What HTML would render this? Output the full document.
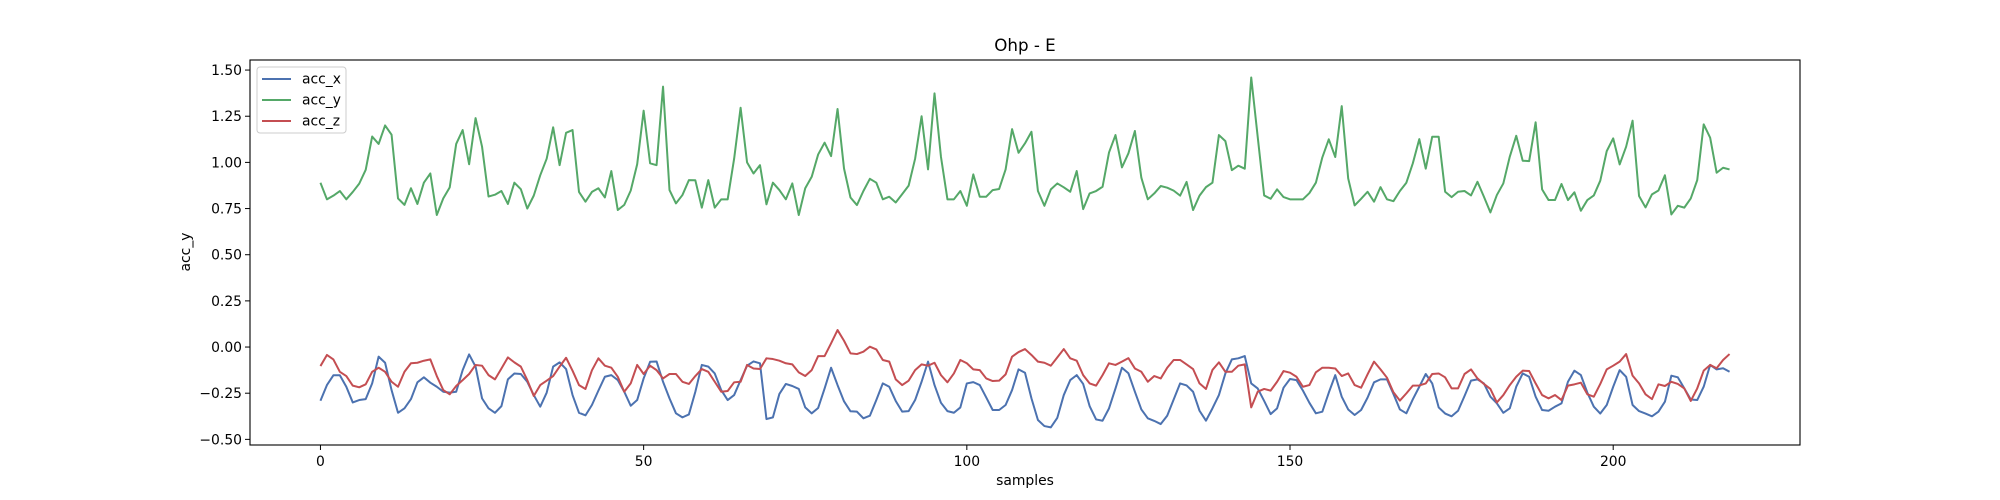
<!DOCTYPE html>
<html><head><meta charset="utf-8"><style>
html,body{margin:0;padding:0;background:#fff;}
svg{display:block;font-family:"DejaVu Sans","Liberation Sans",sans-serif;}
</style></head><body>
<svg id="chart" width="2000" height="500" viewBox="0 0 2000 500" xmlns="http://www.w3.org/2000/svg">
<rect width="2000" height="500" fill="#fff"/>
<text x="1025" y="51" font-size="16.7" text-anchor="middle">Ohp - E</text>
<g id="plot"></g>
<rect x="250" y="60" width="1550" height="385" fill="none" stroke="#000" stroke-width="1.1"/>
<text x="1025" y="485" font-size="13.9" text-anchor="middle">samples</text>
<text x="0" y="0" font-size="13.9" text-anchor="middle" transform="translate(190,252) rotate(-90)">acc_y</text>
<g>
<rect x="257" y="67" width="89" height="66" rx="3" fill="#fff" fill-opacity="0.8" stroke="#ccc"/>
<line x1="262" y1="79" x2="291" y2="79" stroke="#4c72b0" stroke-width="2"/>
<text x="302" y="83.5" font-size="13.9">acc_x</text>
<line x1="262" y1="100" x2="291" y2="100" stroke="#55a868" stroke-width="2"/>
<text x="302" y="104.5" font-size="13.9">acc_y</text>
<line x1="262" y1="121" x2="291" y2="121" stroke="#c44e52" stroke-width="2"/>
<text x="302" y="125.5" font-size="13.9">acc_z</text>
</g>
</svg>
<script>
const accY = [0.89,0.80,0.82,0.845,0.80,0.84,0.885,0.96,1.14,1.10,1.20,1.15,0.805,0.77,0.86,0.775,0.89,0.94,0.715,0.805,0.865,1.10,1.175,0.99,1.24,1.085,0.815,0.825,0.845,0.775,0.89,0.855,0.75,0.82,0.93,1.02,1.19,0.985,1.16,1.175,0.84,0.787,0.84,0.86,0.81,0.953,0.742,0.77,0.847,0.99,1.28,0.995,0.985,1.41,0.85,0.778,0.823,0.904,0.903,0.755,0.904,0.755,0.80,0.80,1.02,1.296,1.0,0.94,0.985,0.773,0.89,0.85,0.80,0.886,0.715,0.86,0.922,1.043,1.107,1.034,1.289,0.967,0.81,0.769,0.845,0.911,0.89,0.80,0.814,0.783,0.828,0.874,1.02,1.25,0.962,1.374,1.03,0.80,0.80,0.845,0.765,0.935,0.814,0.814,0.85,0.856,0.962,1.18,1.052,1.103,1.166,0.845,0.765,0.854,0.886,0.865,0.841,0.953,0.747,0.832,0.845,0.868,1.054,1.148,0.973,1.049,1.17,0.917,0.80,0.832,0.872,0.863,0.847,0.82,0.894,0.742,0.82,0.866,0.89,1.148,1.115,0.958,0.982,0.966,1.46,1.139,0.821,0.803,0.854,0.812,0.80,0.80,0.80,0.834,0.89,1.027,1.125,1.029,1.305,0.913,0.767,0.803,0.841,0.787,0.866,0.80,0.79,0.845,0.89,0.995,1.126,0.966,1.139,1.139,0.841,0.812,0.841,0.845,0.821,0.895,0.814,0.729,0.823,0.886,1.031,1.144,1.009,1.007,1.217,0.854,0.796,0.796,0.883,0.796,0.838,0.738,0.796,0.821,0.901,1.061,1.13,0.989,1.085,1.226,0.818,0.756,0.827,0.848,0.93,0.718,0.765,0.755,0.805,0.904,1.206,1.134,0.944,0.971,0.962];
const accX = [-0.291,-0.206,-0.153,-0.153,-0.215,-0.3,-0.287,-0.282,-0.197,-0.052,-0.085,-0.233,-0.356,-0.332,-0.282,-0.191,-0.164,-0.193,-0.215,-0.242,-0.247,-0.242,-0.125,-0.04,-0.106,-0.278,-0.332,-0.356,-0.32,-0.175,-0.143,-0.146,-0.188,-0.26,-0.323,-0.247,-0.106,-0.083,-0.119,-0.26,-0.356,-0.37,-0.314,-0.236,-0.161,-0.152,-0.179,-0.242,-0.318,-0.287,-0.17,-0.08,-0.078,-0.188,-0.278,-0.359,-0.381,-0.365,-0.242,-0.097,-0.106,-0.143,-0.233,-0.287,-0.26,-0.179,-0.101,-0.078,-0.088,-0.39,-0.381,-0.254,-0.2,-0.211,-0.227,-0.327,-0.359,-0.33,-0.224,-0.112,-0.206,-0.294,-0.348,-0.35,-0.386,-0.372,-0.287,-0.197,-0.215,-0.292,-0.35,-0.347,-0.287,-0.188,-0.079,-0.206,-0.302,-0.347,-0.356,-0.327,-0.197,-0.19,-0.206,-0.273,-0.341,-0.341,-0.314,-0.233,-0.121,-0.139,-0.278,-0.395,-0.428,-0.435,-0.383,-0.26,-0.179,-0.152,-0.2,-0.32,-0.392,-0.399,-0.332,-0.224,-0.112,-0.142,-0.242,-0.338,-0.386,-0.4,-0.417,-0.372,-0.284,-0.197,-0.208,-0.242,-0.345,-0.399,-0.332,-0.26,-0.143,-0.067,-0.061,-0.049,-0.197,-0.224,-0.292,-0.363,-0.332,-0.22,-0.173,-0.179,-0.236,-0.302,-0.359,-0.35,-0.247,-0.152,-0.269,-0.338,-0.368,-0.341,-0.274,-0.191,-0.175,-0.175,-0.254,-0.338,-0.359,-0.283,-0.215,-0.146,-0.197,-0.327,-0.36,-0.375,-0.345,-0.265,-0.182,-0.175,-0.197,-0.269,-0.305,-0.356,-0.332,-0.215,-0.143,-0.161,-0.269,-0.341,-0.345,-0.323,-0.305,-0.188,-0.128,-0.152,-0.247,-0.323,-0.36,-0.314,-0.215,-0.125,-0.161,-0.314,-0.347,-0.36,-0.375,-0.35,-0.296,-0.155,-0.164,-0.224,-0.284,-0.287,-0.215,-0.097,-0.121,-0.115,-0.134];
const accZ = [-0.103,-0.043,-0.067,-0.134,-0.157,-0.209,-0.218,-0.202,-0.134,-0.112,-0.134,-0.188,-0.215,-0.134,-0.088,-0.085,-0.074,-0.067,-0.157,-0.233,-0.256,-0.211,-0.179,-0.146,-0.097,-0.101,-0.152,-0.175,-0.116,-0.056,-0.083,-0.106,-0.179,-0.265,-0.206,-0.182,-0.157,-0.106,-0.058,-0.128,-0.206,-0.227,-0.126,-0.061,-0.101,-0.112,-0.161,-0.242,-0.197,-0.097,-0.146,-0.101,-0.125,-0.17,-0.146,-0.146,-0.188,-0.2,-0.157,-0.119,-0.134,-0.188,-0.242,-0.238,-0.191,-0.188,-0.097,-0.116,-0.119,-0.061,-0.065,-0.074,-0.088,-0.094,-0.137,-0.157,-0.125,-0.049,-0.049,0.02,0.092,0.034,-0.034,-0.038,-0.025,0.002,-0.013,-0.07,-0.079,-0.175,-0.206,-0.182,-0.125,-0.094,-0.101,-0.085,-0.152,-0.191,-0.143,-0.07,-0.088,-0.121,-0.125,-0.17,-0.184,-0.182,-0.148,-0.052,-0.027,-0.011,-0.043,-0.079,-0.085,-0.101,-0.056,-0.011,-0.061,-0.074,-0.152,-0.197,-0.209,-0.152,-0.088,-0.097,-0.079,-0.06,-0.116,-0.134,-0.188,-0.157,-0.17,-0.112,-0.07,-0.07,-0.094,-0.119,-0.197,-0.227,-0.124,-0.083,-0.134,-0.134,-0.101,-0.094,-0.327,-0.242,-0.227,-0.236,-0.188,-0.13,-0.139,-0.161,-0.215,-0.206,-0.137,-0.112,-0.112,-0.116,-0.157,-0.143,-0.206,-0.22,-0.148,-0.079,-0.121,-0.166,-0.245,-0.29,-0.251,-0.209,-0.208,-0.197,-0.146,-0.143,-0.164,-0.224,-0.224,-0.146,-0.121,-0.17,-0.2,-0.227,-0.3,-0.26,-0.206,-0.161,-0.128,-0.13,-0.197,-0.26,-0.278,-0.26,-0.287,-0.209,-0.202,-0.193,-0.256,-0.269,-0.2,-0.121,-0.101,-0.079,-0.038,-0.155,-0.197,-0.256,-0.282,-0.202,-0.211,-0.188,-0.2,-0.224,-0.292,-0.224,-0.128,-0.097,-0.115,-0.07,-0.038];
const xTicks = [0,50,100,150,200];
const yTicks = [-0.5,-0.25,0,0.25,0.5,0.75,1.0,1.25,1.5];
const yTickLabels = ["\u22120.50","\u22120.25","0.00","0.25","0.50","0.75","1.00","1.25","1.50"];

const NS = "http://www.w3.org/2000/svg";
const L=250,R=1800,T=60,B=445;
const nPts = accY.length;
const xMin = -(nPts-1)*0.05, xMax = (nPts-1)*1.05;
const yMin = -0.5305, yMax = 1.5545;
function sx(v){return L+(v-xMin)/(xMax-xMin)*(R-L);}
function sy(v){return B-(v-yMin)/(yMax-yMin)*(B-T);}
const plot = document.getElementById('plot');

xTicks.forEach((t,i)=>{
  const g=document.createElementNS(NS,'g');
  
  
  const ln=document.createElementNS(NS,'line');
  ln.setAttribute('x1',sx(t));ln.setAttribute('x2',sx(t));
  ln.setAttribute('y1',B);ln.setAttribute('y2',B+5);
  ln.setAttribute('stroke','#000');ln.setAttribute('stroke-width','1');
  const tx=document.createElementNS(NS,'text');
  tx.setAttribute('x',sx(t));tx.setAttribute('y',B+21);
  tx.setAttribute('font-size','13.9');tx.setAttribute('text-anchor','middle');
  tx.textContent=String(t);
  g.appendChild(ln);g.appendChild(tx);plot.appendChild(g);
});
yTicks.forEach((t,i)=>{
  const g=document.createElementNS(NS,'g');
  
  
  const ln=document.createElementNS(NS,'line');
  ln.setAttribute('x1',L-5);ln.setAttribute('x2',L);
  ln.setAttribute('y1',sy(t));ln.setAttribute('y2',sy(t));
  ln.setAttribute('stroke','#000');ln.setAttribute('stroke-width','1');
  const tx=document.createElementNS(NS,'text');
  tx.setAttribute('x',L-8);tx.setAttribute('y',sy(t)+5);
  tx.setAttribute('font-size','13.9');tx.setAttribute('text-anchor','end');
  tx.textContent=yTickLabels[i];
  g.appendChild(ln);g.appendChild(tx);plot.appendChild(g);
});
function drawLine(data,color,name){
  const p=document.createElementNS(NS,'polyline');
  
  
  p.setAttribute('points',data.map((v,i)=>sx(i).toFixed(2)+','+sy(v).toFixed(2)).join(' '));
  p.setAttribute('fill','none');p.setAttribute('stroke',color);
  p.setAttribute('stroke-width','2');p.setAttribute('stroke-linejoin','round');
  plot.appendChild(p);
}
drawLine(accX,'#4c72b0','acc-x-line');
drawLine(accY,'#55a868','acc-y-line');
drawLine(accZ,'#c44e52','acc-z-line');
</script>
</body></html>
